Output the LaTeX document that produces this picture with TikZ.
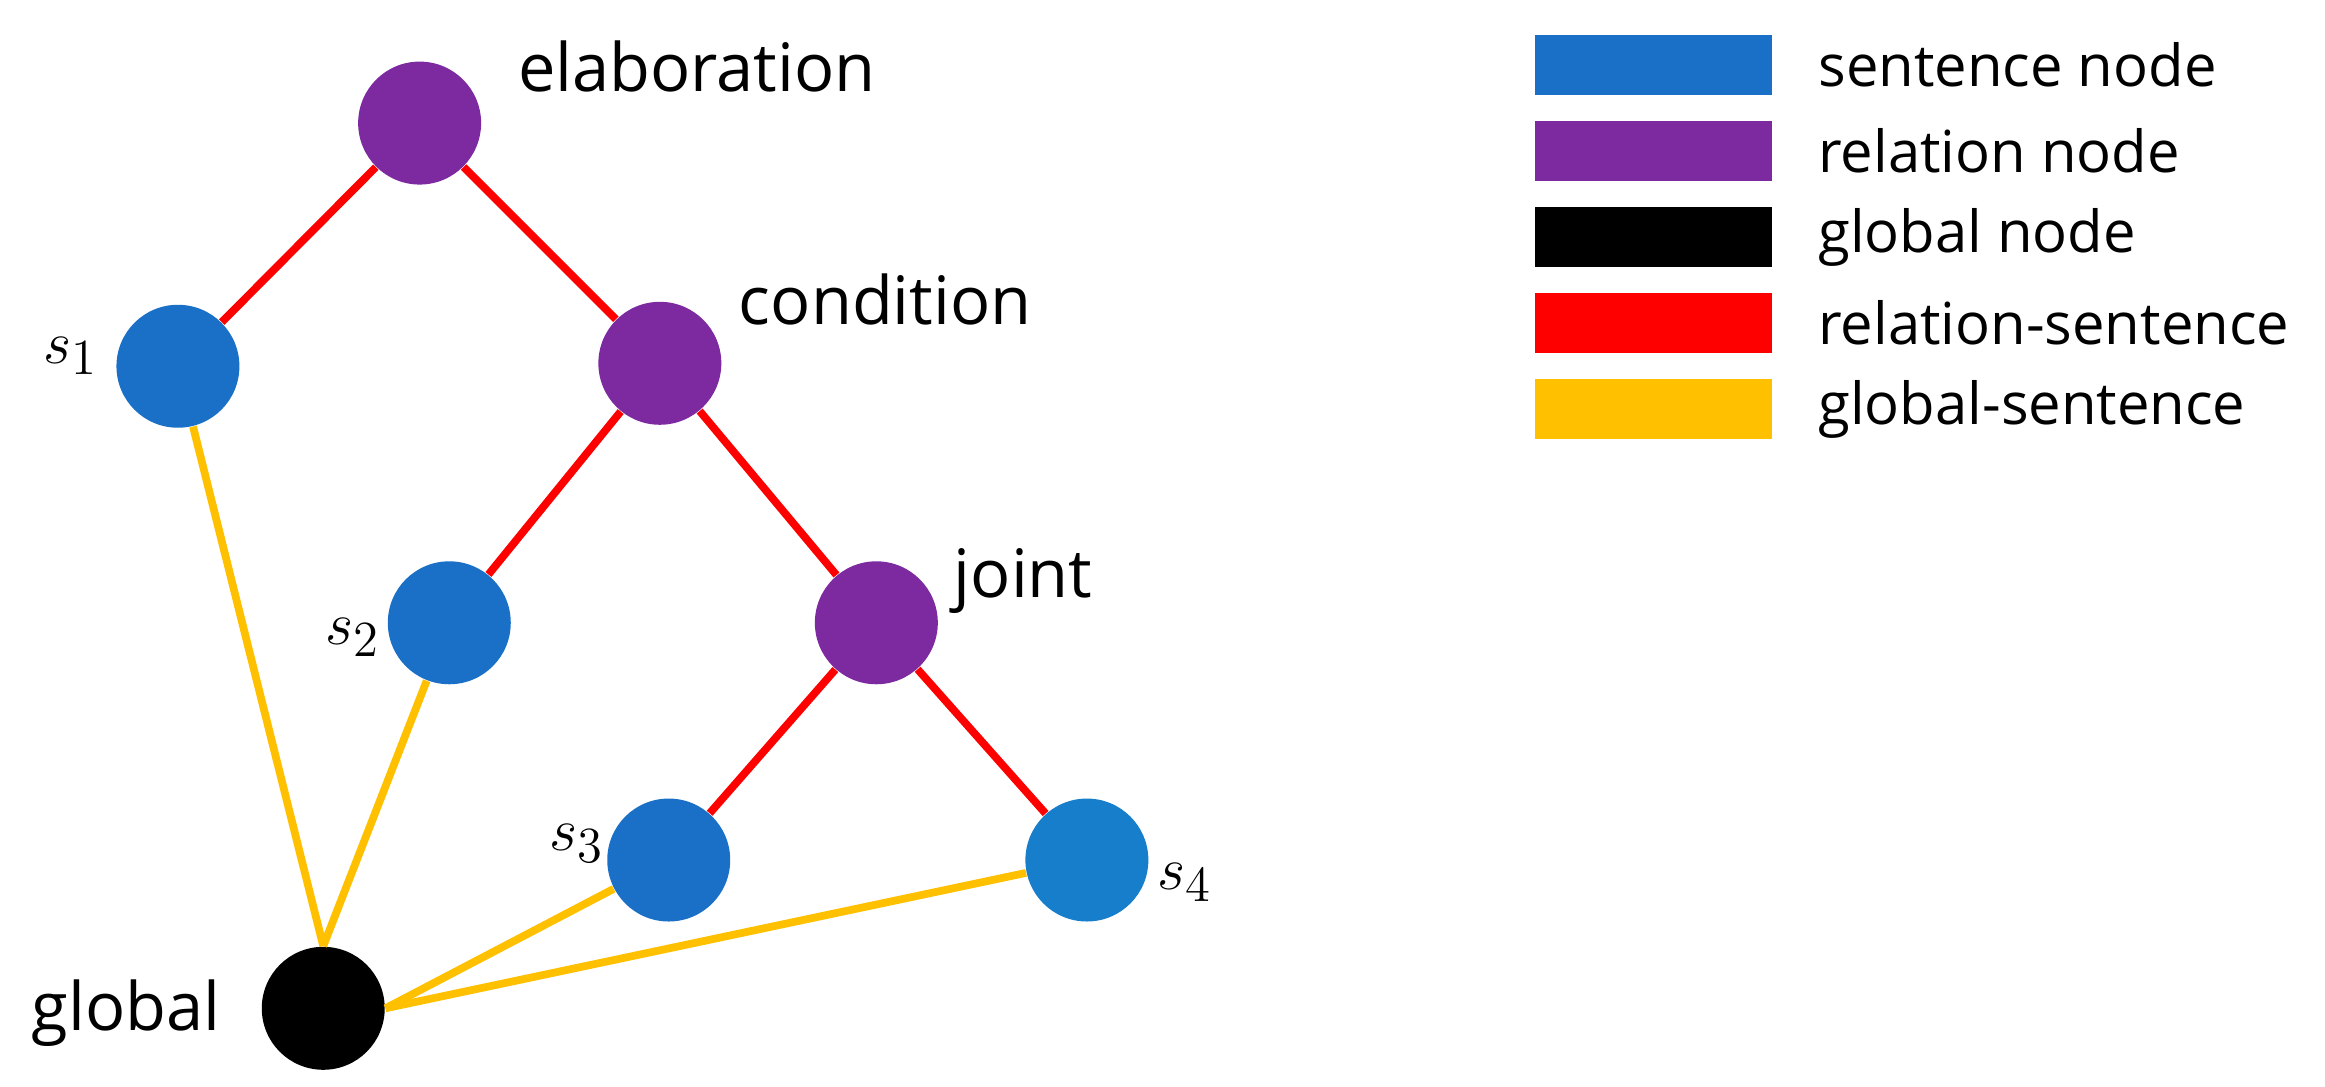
\documentclass[tikz,border=0pt]{standalone}
\usepackage{fontspec}
\setmainfont{Open Sans}
\usetikzlibrary{positioning}
\definecolor{sentblue}{HTML}{1A70C6}
\definecolor{relpurple}{HTML}{7D2AA0}
\definecolor{glbyellow}{HTML}{FFC000}
\tikzset{
	sent/.style={circle, fill=sentblue, minimum size=1.23cm, inner sep=0pt},
	rel/.style={circle, fill=relpurple, minimum size=1.23cm, inner sep=0pt},
	glb/.style={circle, fill=black, minimum size=1.23cm, inner sep=0pt},
	relsent/.style={red, line width=2.2pt},
	glbsent/.style={glbyellow, line width=2.2pt},
	lab/.style={font=\fontsize{19}{23}\selectfont},
	key/.style={minimum width=2.37cm, minimum height=0.6cm, inner sep=0pt},
	keytxt/.style={font=\fontsize{16.5}{20}\selectfont, anchor=west}
}
\begin{document}
\begin{tikzpicture}[x=0.01483cm, y=-0.01483cm]
	\useasboundingbox (0,0) rectangle (1568,733);
	% tree nodes
	\node[rel]  (elab) at (283,83)  {};
	\node[sent] (s1)   at (120,247) {};
	\node[rel]  (cond) at (445,245) {};
	\node[sent] (s2)   at (303,420) {};
	\node[rel]  (joint) at (591,420) {};
	\node[sent] (s3)   at (451,580) {};
	\node[sent, fill=sentblue!90!cyan] (s4) at (733,580) {};
	\node[glb]  (glob) at (218,680) {};
	% labels
	\node[lab] at (470,45)  {elaboration};
	\node[lab] at (597,202) {condition};
	\node[lab] at (690,392) {joint};
	\node[lab] at (48,240)  {$s_1$};
	\node[lab] at (238,430) {$s_2$};
	\node[lab] at (389,569) {$s_3$};
	\node[lab] at (799,595) {$s_4$};
	\node[lab] at (85,683)  {global};
	% edges
	\draw[relsent] (elab) -- (s1);
	\draw[relsent] (elab) -- (cond);
	\draw[relsent] (cond) -- (s2);
	\draw[relsent] (cond) -- (joint);
	\draw[relsent] (joint) -- (s3);
	\draw[relsent] (joint) -- (s4);
	\draw[glbsent] (glob.north) -- (s1);
	\draw[glbsent] (glob.north) -- (s2);
	\draw[glbsent] (glob.east) -- (s3);
	\draw[glbsent] (glob.east) -- (s4);
	% legend
	\foreach \c/\t [count=\i from 0] in {sentblue/sentence node, relpurple/relation node, black/global node, red/relation-sentence, glbyellow/global-sentence}
	{
		\node[key, fill=\c] (k\i) at (1115,{44+58*\i}) {};
		\node[keytxt] (t\i) at (1218,{44+58*\i}) {\t};
	}
\end{tikzpicture}
\end{document}
